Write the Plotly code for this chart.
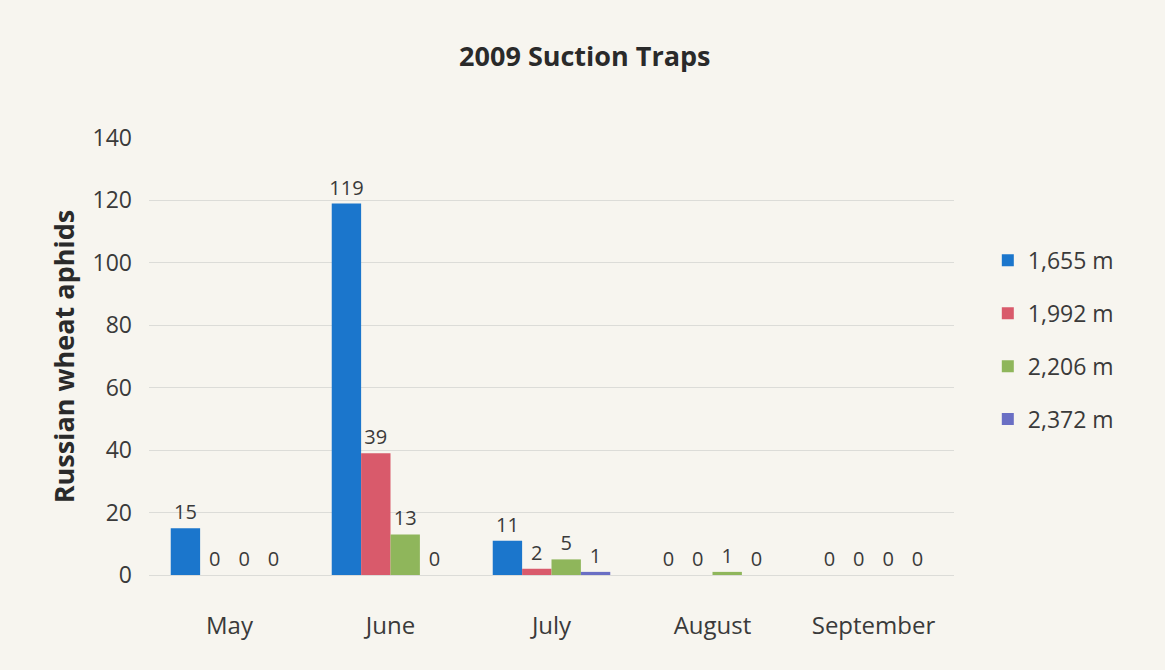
import plotly.graph_objects as go

# Monthly Russian wheat aphid counts from suction traps, by trap elevation
months = ["May", "June", "July", "August", "September"]
elevations = ["1,655 m", "1,992 m", "2,206 m", "2,372 m"]
counts_1655 = [15, 119, 11, 0, 0]
counts_1992 = [0, 39, 2, 0, 0]
counts_2206 = [0, 13, 5, 1, 0]
counts_2372 = [0, 0, 1, 0, 0]
y_ticks = [0, 20, 40, 60, 80, 100, 120, 140]

series = [counts_1655, counts_1992, counts_2206, counts_2372]
colors = ["#1b76cc", "#d95a6b", "#8fb65b", "#6a6fc4"]

FONT = "'Open Sans', Lato, sans-serif"
TEXT = "#3a3a3a"

fig = go.Figure()
for i, (name, vals, col) in enumerate(zip(elevations, series, colors)):
    fig.add_trace(go.Bar(
        x=months, y=vals, name=name, legendgroup=f"g{i}",
        marker=dict(color=col, line=dict(width=0)),
        text=[str(v) for v in vals],
        textposition="outside",
        constraintext="none",
        textfont=dict(family=FONT, size=20, color=TEXT),
        cliponaxis=False,
    ))

fig.update_layout(
    width=1165, height=670,
    margin=dict(l=149, r=211, t=138, b=95),
    paper_bgcolor="#f7f5ef",
    plot_bgcolor="rgba(0,0,0,0)",
    barmode="group",
    bargap=0.27,
    bargroupgap=0,
    title=dict(text="<b>2009 Suction Traps</b>", x=0.502, xanchor="center",
               y=0.915, yanchor="middle",
               font=dict(family=FONT, size=27, color="#2a2a2a")),
    showlegend=True,
    legend=dict(x=1.042, xanchor="left", y=0.538, yanchor="middle",
                font=dict(family=FONT, size=23, color=TEXT),
                bgcolor="rgba(0,0,0,0)", tracegroupgap=20,
                itemwidth=30, itemsizing="constant"),
    font=dict(family=FONT, color=TEXT),
)

fig.update_xaxes(
    showgrid=False, zeroline=False, showline=False, ticks="",
    tickfont=dict(family=FONT, size=24, color=TEXT),
    ticklabelstandoff=34,
)
fig.update_yaxes(
    range=[0, 140], tickvals=y_ticks,
    showgrid=True, gridcolor="#dcdcd8", gridwidth=1,
    zeroline=True, zerolinecolor="#dcdcd8", zerolinewidth=1,
    showline=False, ticks="",
    tickfont=dict(family=FONT, size=23, color=TEXT),
    ticklabelstandoff=16,
    title=dict(text="<b>Russian wheat aphids</b>", standoff=10,
               font=dict(family=FONT, size=27, color="#2a2a2a")),
)

fig.write_html("out.html")
